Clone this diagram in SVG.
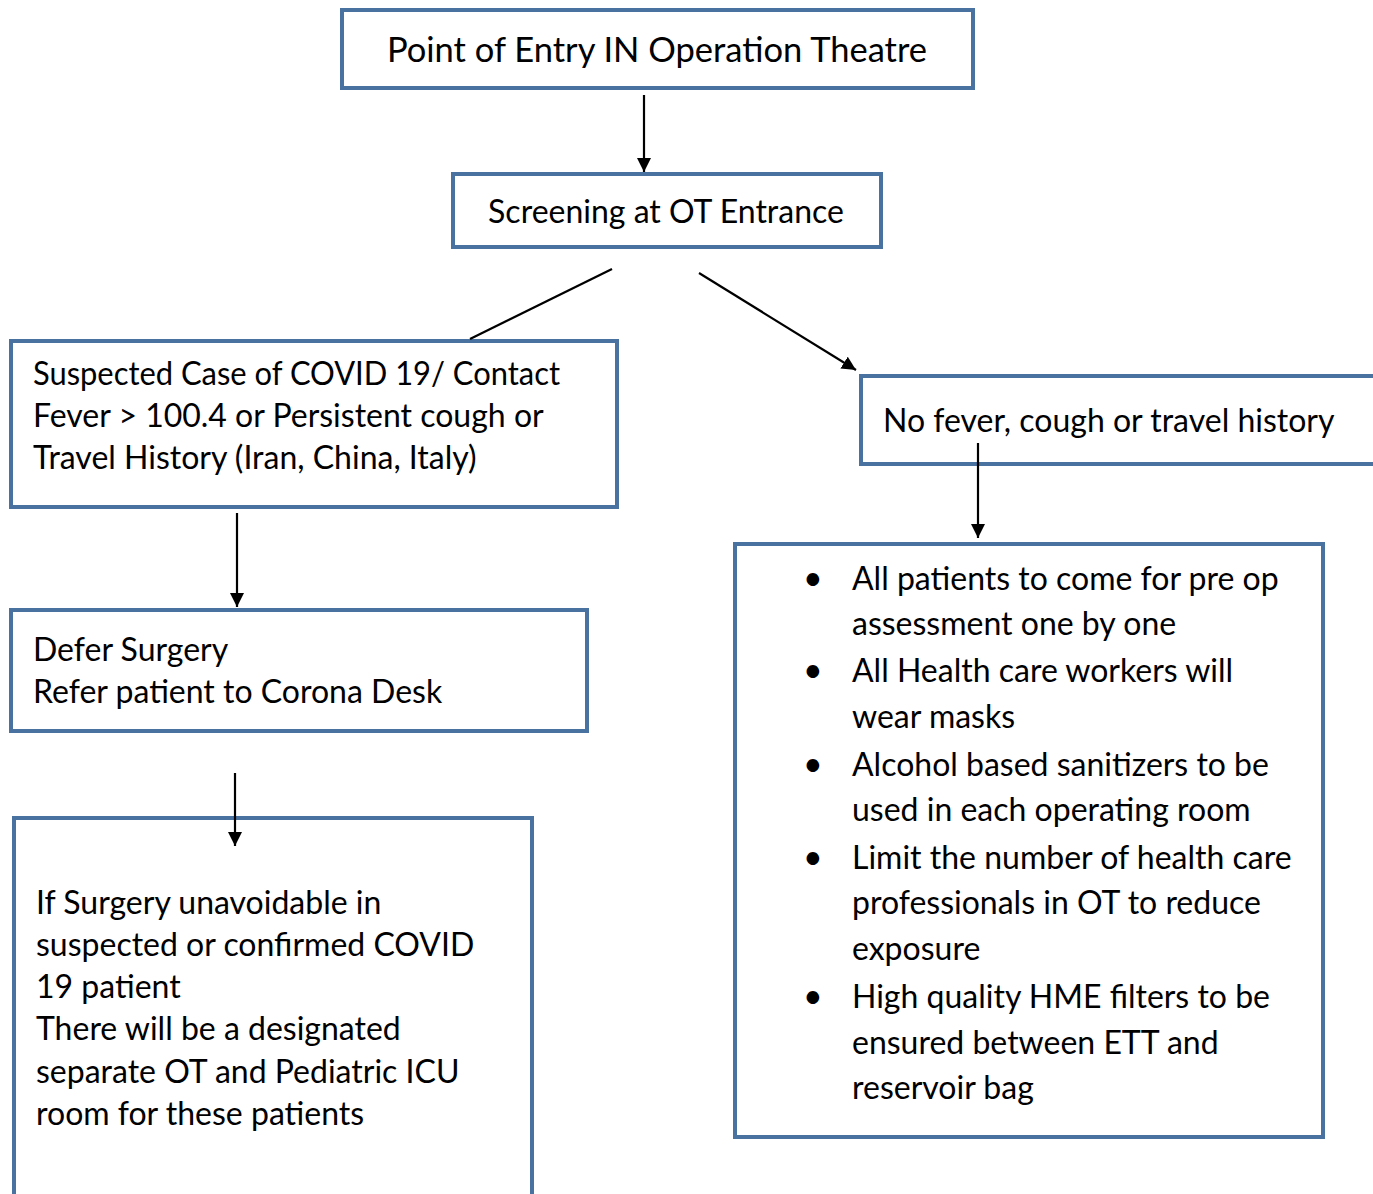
<svg xmlns="http://www.w3.org/2000/svg" width="1373" height="1194" viewBox="0 0 1373 1194">
  <style>
    .box { fill: #ffffff; stroke: #4a72a0; stroke-width: 4; }
    .t { font-family: Lato, "Open Sans", sans-serif; fill: #000000; }
    .title { font-size: 34.5px; }
    .body { font-size: 32px; }
    .bullet { font-size: 34px; }
    .conn { stroke: #000000; stroke-width: 2.2; fill: none; }
  </style>
  <defs>
    <marker id="arrow" markerWidth="14" markerHeight="14" refX="14" refY="7" orient="auto" markerUnits="userSpaceOnUse" viewBox="0 0 14 14">
      <path d="M0,0 L14,7 L0,14 Z" fill="#000000"/>
    </marker>
  </defs>
  <rect width="1373" height="1194" fill="#ffffff"/>

  <g id="node-entry">
    <rect class="box" x="342" y="10" width="631" height="78"/>
    <text class="t title" x="657" y="62" text-anchor="middle">Point of Entry IN Operation Theatre</text>
  </g>

  <g id="node-screening">
    <rect class="box" x="453" y="174" width="428" height="73"/>
    <text class="t body" x="666" y="223" text-anchor="middle">Screening at OT Entrance</text>
  </g>

  <g id="node-suspected">
    <rect class="box" x="11" y="341" width="606" height="166"/>
    <text class="t body" x="33" y="385" textLength="527" lengthAdjust="spacingAndGlyphs">Suspected Case of COVID 19/ Contact</text>
    <text class="t body" x="33" y="427">Fever &gt; 100.4 or Persistent cough or</text>
    <text class="t body" x="33" y="469">Travel History (Iran, China, Italy)</text>
  </g>

  <g id="node-defer">
    <rect class="box" x="11" y="610" width="576" height="121"/>
    <text class="t body" x="33" y="661">Defer Surgery</text>
    <text class="t body" x="33" y="703">Refer patient to Corona Desk</text>
  </g>

  <g id="node-unavoidable">
    <rect class="box" x="14" y="818" width="518" height="400"/>
    <text class="t body" x="36" y="914">If Surgery unavoidable in</text>
    <text class="t body" x="36" y="956">suspected or confirmed COVID</text>
    <text class="t body" x="36" y="998">19 patient</text>
    <text class="t body" x="36" y="1040">There will be a designated</text>
    <text class="t body" x="36" y="1083">separate OT and Pediatric ICU</text>
    <text class="t body" x="36" y="1125">room for these patients</text>
  </g>

  <g id="node-no-fever">
    <rect class="box" x="861" y="376" width="530" height="88"/>
    <text class="t body" x="883" y="432">No fever, cough or travel history</text>
  </g>

  <g id="node-precautions">
    <rect class="box" x="735" y="544" width="588" height="593"/>
    <g class="t bullet">
      <text x="803" y="590">•</text>
      <text x="803" y="682">•</text>
      <text x="803" y="776">•</text>
      <text x="803" y="869">•</text>
      <text x="803" y="1008">•</text>
    </g>
    <g class="t body">
      <text x="852" y="590">All patients to come for pre op</text>
      <text x="852" y="635">assessment one by one</text>
      <text x="852" y="682">All Health care workers will</text>
      <text x="852" y="728">wear masks</text>
      <text x="852" y="776">Alcohol based sanitizers to be</text>
      <text x="852" y="821">used in each operating room</text>
      <text x="852" y="869">Limit the number of health care</text>
      <text x="852" y="914">professionals in OT to reduce</text>
      <text x="852" y="960">exposure</text>
      <text x="852" y="1008">High quality HME filters to be</text>
      <text x="852" y="1054">ensured between ETT and</text>
      <text x="852" y="1099">reservoir bag</text>
    </g>
  </g>

  <g id="connectors">
    <line class="conn" x1="644" y1="95" x2="644" y2="172" marker-end="url(#arrow)"/>
    <line class="conn" x1="612" y1="269" x2="470" y2="339"/>
    <line class="conn" x1="699" y1="273" x2="856" y2="370" marker-end="url(#arrow)"/>
    <line class="conn" x1="237" y1="513" x2="237" y2="607" marker-end="url(#arrow)"/>
    <line class="conn" x1="235" y1="773" x2="235" y2="846" marker-end="url(#arrow)"/>
    <line class="conn" x1="978" y1="443" x2="978" y2="538" marker-end="url(#arrow)"/>
  </g>
</svg>
